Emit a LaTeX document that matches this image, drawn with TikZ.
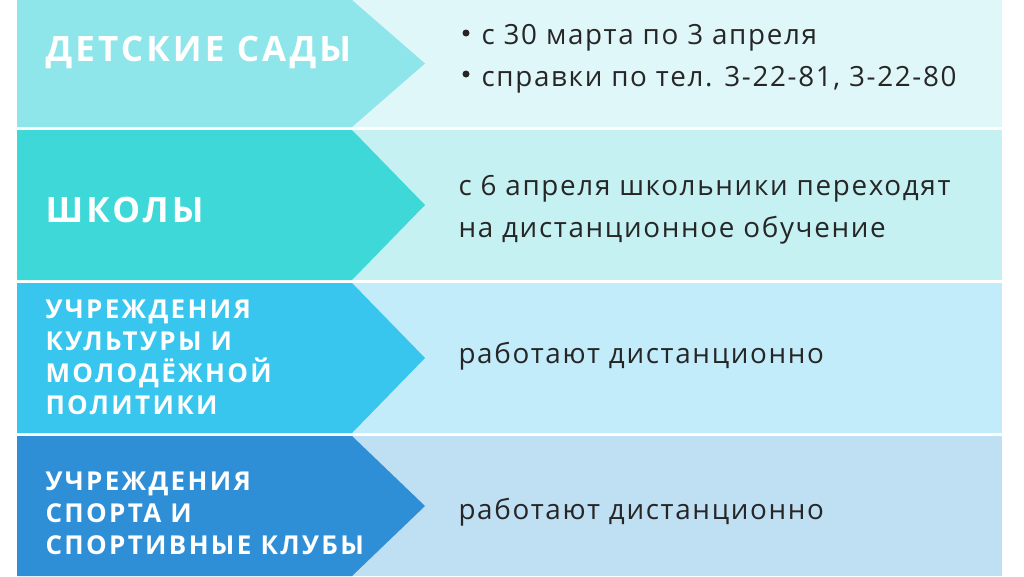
\documentclass[tikz,border=0pt]{standalone}
\usepackage{fontspec}
\setmainfont{Open Sans}[LetterSpace=6]
\newfontfamily\hdr{Open Sans Bold}[LetterSpace=9]
\begin{document}
\begin{tikzpicture}[x=1pt,y=-1pt]
\tikzset{hd/.style={anchor=west,text=white,font=\hdr\fontsize{35}{40}\selectfont,align=left},
 hs/.style={anchor=west,text=white,font=\hdr\fontsize{26}{32}\selectfont,align=left},
 bd/.style={anchor=west,text=black!85,font=\fontsize{27.8}{42}\selectfont,align=left},
 bl/.style={circle,fill=black!85,inner sep=0pt,minimum size=7pt}}
\useasboundingbox (0,0) rectangle (1024,576);
\fill[white] (0,0) rectangle (1024,576);
\definecolor{c1}{HTML}{8EE6EA}\definecolor{p1}{HTML}{E0F7F9}
\definecolor{c2}{HTML}{3FD8D8}\definecolor{p2}{HTML}{C6F1F2}
\definecolor{c3}{HTML}{38C6EE}\definecolor{p3}{HTML}{C3ECFA}
\definecolor{c4}{HTML}{2F8FD6}\definecolor{p4}{HTML}{BFDFF2}
\foreach \t/\b/\c/\p in {0/127/c1/p1,130/280/c2/p2,283/433/c3/p3,436/576/c4/p4}{
  \fill[\p] (17,\t) rectangle (1002,\b);
  \fill[\c] (17,\t) -- (352,\t) -- (425,{(\t+\b)/2}) -- (352,\b) -- (17,\b) -- cycle;
}
\node[hd] (h1) at (42,52) {ДЕТСКИЕ САДЫ};
\node[hd] (h2) at (42,210) {ШКОЛЫ};
\node[hs] (h3) at (42,357) {УЧРЕЖДЕНИЯ\\КУЛЬТУРЫ И\\МОЛОДЁЖНОЙ\\ПОЛИТИКИ};
\node[hs] (h4) at (42,513) {УЧРЕЖДЕНИЯ\\СПОРТА И\\СПОРТИВНЫЕ КЛУБЫ};
\node[bl] (b1) at (466,33) {};
\node[bl] (b2) at (466,74) {};
\node[bd] (t1) at (478,59) {с 30 марта по 3 апреля\\справки по тел. 3-22-81, 3-22-80};
\node[bd] (t2) at (455,210) {с 6 апреля школьники переходят\\на дистанционное обучение};
\node[bd] (t3) at (455,356) {работают дистанционно};
\node[bd] (t4) at (455,512) {работают дистанционно};
\end{tikzpicture}
\end{document}
